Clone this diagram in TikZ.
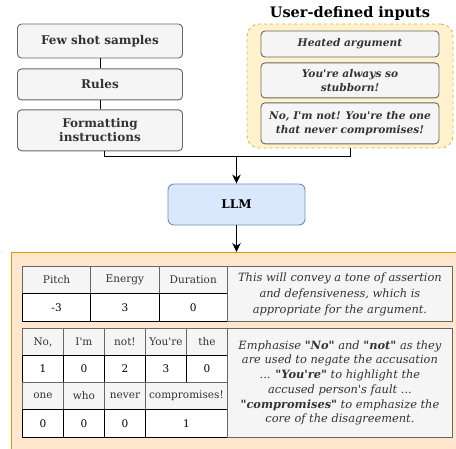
\documentclass[tikz,border=0pt]{standalone}
\usepackage{fontspec}
\setmainfont{DejaVu Serif}[Ligatures=TeXOff]
\usetikzlibrary{positioning,arrows.meta}

\definecolor{boxgray}{HTML}{F5F5F5}
\definecolor{linegray}{HTML}{666666}
\definecolor{txtgray}{HTML}{333333}
\definecolor{llmblue}{HTML}{DAE8FC}
\definecolor{llmline}{HTML}{6C8EBF}
\definecolor{inyellow}{HTML}{FFF2CC}
\definecolor{inline}{HTML}{D6B656}
\definecolor{outorange}{HTML}{FFE6CC}
\definecolor{outline}{HTML}{D79B00}

\tikzset{
  prompt/.style={draw=linegray, fill=boxgray, rounded corners=4pt, text=txtgray,
    font=\bfseries\fontsize{12}{14}\selectfont, align=center, minimum width=165pt},
  utter/.style={prompt, font=\bfseries\itshape\fontsize{10.6}{14}\selectfont, minimum width=178pt, inner sep=1pt},
  hcell/.style={draw=linegray, fill=boxgray, text=txtgray, anchor=north west, inner sep=0pt,
    minimum height=27pt, font=\fontsize{10.5}{12}\selectfont},
  vcell/.style={hcell, draw=black, fill=white, text=black},
  note/.style={draw=linegray, fill=boxgray, text=txtgray, anchor=north west, align=center,
    inner sep=0pt, minimum width=225pt, font=\itshape\fontsize{11.4}{14.7}\selectfont},
  arrow/.style={-{Stealth[length=9pt,width=8.5pt]}, thick},
}

\begin{document}
\begin{tikzpicture}[x=1pt, y=-1pt, line width=0.9pt]
\useasboundingbox (0,0) rectangle (456,448);
\clip (0,0) rectangle (456,448);

% prompt parts
\node[prompt, minimum height=34pt]              (few)   at (100,41) {Few shot samples};
\node[prompt, minimum height=31pt, below=10pt of few] (rules) {Rules};
\node[prompt, minimum height=41pt, below=9pt of rules] (fmt) {Formatting\\instructions};

% user inputs
\node[font=\bfseries\fontsize{14.5}{16}\selectfont] (ttl) at (350,13) {User-defined inputs};
\node[draw=inline, fill=inyellow, dash pattern=on 3pt off 3pt, rounded corners=12pt,
  minimum width=206pt, minimum height=124pt] (inputs) at (350,86) {};
\node[utter, minimum height=26pt]                   (heated) at (350,44) {Heated argument};
\node[utter, minimum height=35pt, below=5pt of heated] (always) {You're always so\\stubborn!};
\node[utter, minimum height=41pt, below=4pt of always] (notme) {No, I'm not! You're the one\\that never compromises!};

% model
\node[prompt, draw=llmline, fill=llmblue, text=black, minimum width=137pt, minimum height=41pt,
  rounded corners=6pt] (llm) at (236.5,204.5) {LLM};
\coordinate (join) at (236.5,156);

\draw (few) -- (rules);
\draw (rules) -- (fmt);
\draw ([xshift=4pt]fmt.south) |- (join);
\draw (inputs.south) |- (join);
\draw[arrow] (join) -- (llm);

% output
\node[draw=outline, fill=outorange, anchor=north west, minimum width=470pt, minimum height=220pt]
  (out) at (11,252) {};
\draw[arrow] (llm) -- (llm |- out.north);

% prosody table
\node[hcell, minimum width=68.3pt] (pitch)  at (22,266)    {Pitch};
\node[hcell, minimum width=68.3pt] (energy) at (90.3,266)  {Energy};
\node[hcell, minimum width=68.4pt] (dur)    at (158.6,266) {Duration};
\node[vcell, minimum width=68.3pt, minimum height=28pt] (pitchv)  at (22,293)    {-3};
\node[vcell, minimum width=68.3pt, minimum height=28pt] (energyv) at (90.3,293)  {3};
\node[vcell, minimum width=68.4pt, minimum height=28pt] (durv)    at (158.6,293) {0};
\node[note, minimum height=55pt, font=\itshape\fontsize{11.4}{16}\selectfont] (why1) at (227,266)
  {This will convey a tone of assertion\\and defensiveness, which is\\appropriate for the argument.};

% emphasis table
\foreach \w [count=\i] in {{No,},I'm,not!,You're,the}
  \node[hcell, minimum width=41pt] (w\i) at (22+41*\i-41,328) {\w};
\foreach \v [count=\i] in {1,0,2,3,0}
  \node[vcell, minimum width=41pt] (v\i) at (22+41*\i-41,355) {\v};
\foreach \w [count=\i] in {one,who,never}
  \node[hcell, minimum width=41pt] (u\i) at (22+41*\i-41,382) {\w};
\node[hcell, minimum width=82pt] (u4) at (145,382) {compromises!};
\foreach \v [count=\i] in {0,0,0}
  \node[vcell, minimum width=41pt, minimum height=28pt] (z\i) at (22+41*\i-41,409) {\v};
\node[vcell, minimum width=82pt, minimum height=28pt] (z4) at (145,409) {1};
\node[note, minimum height=109pt] (why2) at (227,328)
  {Emphasise \textbf{"No"} and \textbf{"not"} as they\\are used to negate the accusation\\
   ... \textbf{"You're"} to highlight the\\accused person's fault ...\\
   \textbf{"compromises"} to emphasize the\\core of the disagreement.};
\end{tikzpicture}
\end{document}
